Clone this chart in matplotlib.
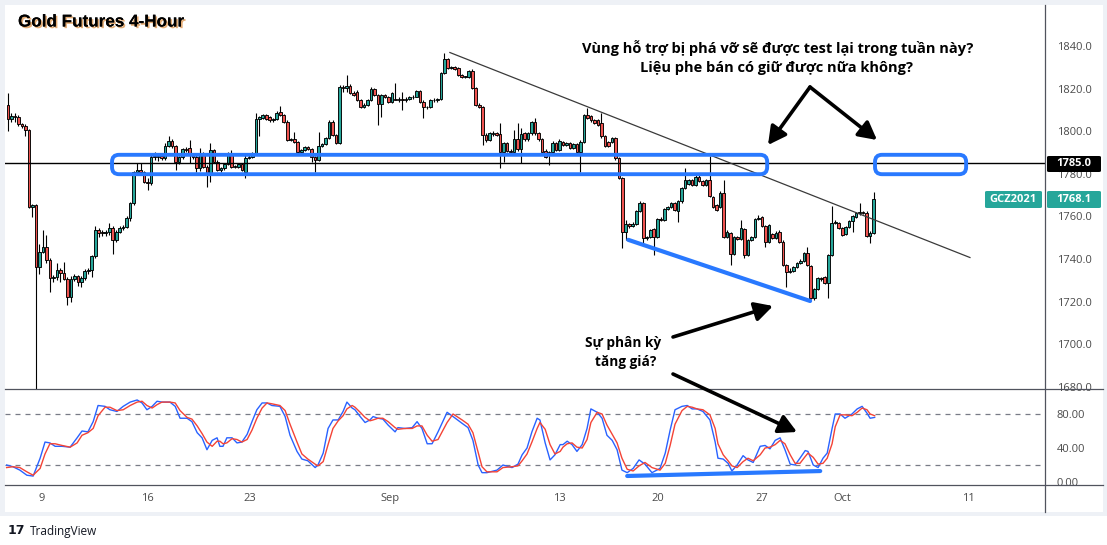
import numpy as np
import matplotlib
matplotlib.use('Agg')
import matplotlib.pyplot as plt
from matplotlib.patches import FancyBboxPatch, Rectangle, FancyArrowPatch
from matplotlib.lines import Line2D
import matplotlib.patheffects as pe

# ── Data: 4-hour candles (Gold futures, Aug 6 -> Oct 4) ─────────────
opens = [
    1812.3, 1805.6, 1807.2, 1806.5, 1803.2, 1802.5, 1800.6, 1764.6, 1765.2, 1736.4,
    1743.5, 1745.8, 1739.6, 1731.0, 1731.6, 1734.9, 1733.6, 1730.5, 1722.4, 1730.5,
    1731.8, 1729.4, 1731.0, 1734.6, 1735.0, 1741.2, 1753.7, 1752.4, 1752.1, 1752.9,
    1754.4, 1749.0, 1752.9, 1754.5, 1755.2, 1759.1, 1766.2, 1781.0, 1781.8, 1780.8,
    1776.3, 1775.5, 1788.1, 1787.8, 1788.5, 1787.2, 1793.1, 1795.4, 1792.8, 1785.7,
    1787.8, 1791.5, 1792.0, 1788.9, 1788.1, 1782.6, 1789.6, 1783.4, 1780.3, 1791.2,
    1785.7, 1781.8, 1782.5, 1784.6, 1789.6, 1783.1, 1783.4, 1784.6, 1780.6, 1787.3,
    1788.1, 1789.6, 1805.6, 1806.2, 1807.5, 1806.8, 1805.0, 1805.6, 1809.0, 1807.5,
    1804.5, 1795.9, 1796.5, 1795.1, 1790.4, 1791.2, 1792.4, 1791.5, 1787.8, 1786.5,
    1793.1, 1794.0, 1796.7, 1804.5, 1798.2, 1794.3, 1820.6, 1820.1, 1821.2, 1818.1,
    1818.6, 1814.7, 1811.5, 1812.3, 1814.7, 1819.7, 1817.0, 1812.8, 1817.0, 1815.9,
    1813.9, 1815.3, 1814.7, 1815.0, 1814.4, 1815.0, 1815.9, 1816.2, 1819.0, 1813.9,
    1811.5, 1811.2, 1814.7, 1814.4, 1815.0, 1827.2, 1833.8, 1829.5, 1830.0, 1829.5,
    1826.4, 1825.3, 1825.5, 1828.4, 1820.1, 1812.3, 1811.5, 1798.2, 1795.9, 1798.5,
    1799.3, 1798.5, 1790.4, 1794.3, 1790.9, 1790.4, 1796.2, 1791.5, 1799.0, 1796.2,
    1799.0, 1804.2, 1799.0, 1796.2, 1790.9, 1789.8, 1790.4, 1794.6, 1791.2, 1795.1,
    1793.5, 1794.6, 1792.0, 1794.0, 1790.4, 1795.1, 1807.6, 1807.1, 1805.0, 1805.0,
    1803.7, 1797.5, 1795.1, 1795.1, 1796.7, 1787.3, 1777.9, 1752.9, 1756.5, 1755.5,
    1756.5, 1762.7, 1766.2, 1749.7, 1750.5, 1753.9, 1750.5, 1758.7, 1758.3, 1763.4,
    1764.3, 1766.2, 1762.7, 1767.0, 1773.2, 1775.0, 1777.1, 1774.8, 1778.7, 1776.8,
    1774.8, 1777.1, 1769.3, 1765.4, 1764.6, 1771.2, 1750.5, 1752.4, 1742.4, 1750.2,
    1749.5, 1754.0, 1741.9, 1749.0, 1750.2, 1758.7, 1759.6, 1755.5, 1748.2, 1751.8,
    1749.7, 1752.9, 1748.2, 1737.2, 1734.1, 1734.6, 1736.4, 1738.0, 1739.3, 1743.0,
    1736.7, 1721.6, 1725.8, 1731.0, 1731.4, 1728.6, 1741.9, 1756.8, 1757.1, 1754.4,
    1751.8, 1755.2, 1758.0, 1759.6, 1761.5, 1762.0, 1761.8, 1750.8, 1752.4,
]
highs = [
    1818.0, 1808.4, 1808.4, 1807.6, 1804.0, 1803.2, 1801.2, 1765.8, 1766.0, 1747.0,
    1753.7, 1751.3, 1740.5, 1732.5, 1738.3, 1736.0, 1738.8, 1731.5, 1732.0, 1733.0,
    1732.5, 1731.8, 1735.5, 1735.8, 1742.0, 1755.5, 1754.5, 1753.5, 1753.5, 1757.0,
    1755.5, 1753.5, 1755.5, 1756.0, 1760.0, 1766.8, 1781.5, 1785.0, 1785.0, 1781.5,
    1778.0, 1789.0, 1790.4, 1789.5, 1789.5, 1794.5, 1797.5, 1796.5, 1793.5, 1788.5,
    1792.0, 1792.5, 1795.9, 1789.5, 1788.8, 1792.0, 1790.2, 1784.0, 1794.3, 1791.8,
    1786.3, 1783.2, 1785.2, 1790.2, 1791.2, 1784.0, 1785.2, 1785.2, 1788.9, 1788.9,
    1790.2, 1808.7, 1807.0, 1808.1, 1808.0, 1807.3, 1806.0, 1809.5, 1811.8, 1808.0,
    1805.0, 1797.0, 1799.8, 1795.6, 1791.8, 1793.0, 1793.0, 1792.0, 1788.5, 1799.8,
    1794.6, 1797.2, 1805.2, 1805.0, 1798.7, 1821.7, 1821.7, 1826.4, 1822.0, 1819.0,
    1819.2, 1815.3, 1813.2, 1815.3, 1820.5, 1820.3, 1817.5, 1817.6, 1817.6, 1816.5,
    1818.5, 1822.8, 1816.0, 1818.6, 1815.8, 1816.4, 1816.8, 1819.5, 1819.5, 1814.4,
    1812.0, 1815.3, 1815.4, 1815.6, 1827.8, 1836.6, 1834.3, 1830.6, 1830.5, 1830.0,
    1827.0, 1826.0, 1828.9, 1829.0, 1820.6, 1813.0, 1812.0, 1799.0, 1799.8, 1800.0,
    1799.8, 1803.7, 1794.8, 1794.8, 1791.5, 1800.6, 1803.7, 1801.4, 1799.5, 1799.5,
    1804.8, 1806.1, 1799.5, 1796.7, 1791.5, 1790.9, 1795.2, 1795.1, 1796.2, 1795.6,
    1795.1, 1795.1, 1794.6, 1794.5, 1796.0, 1808.2, 1810.7, 1807.6, 1805.5, 1805.6,
    1808.4, 1798.0, 1795.6, 1797.2, 1797.2, 1787.8, 1778.4, 1758.3, 1757.0, 1757.2,
    1763.2, 1767.4, 1766.7, 1751.0, 1754.2, 1754.4, 1759.2, 1759.5, 1763.8, 1764.8,
    1766.8, 1766.7, 1767.5, 1773.7, 1782.6, 1777.6, 1777.6, 1779.2, 1779.2, 1777.3,
    1777.6, 1788.4, 1769.8, 1765.9, 1771.7, 1777.1, 1753.4, 1752.9, 1750.7, 1750.7,
    1758.3, 1754.4, 1749.5, 1750.7, 1759.2, 1760.7, 1760.1, 1756.0, 1756.5, 1752.3,
    1753.0, 1753.4, 1748.7, 1737.7, 1736.0, 1736.9, 1738.5, 1739.8, 1743.5, 1745.8,
    1737.2, 1726.3, 1731.5, 1731.6, 1731.9, 1742.4, 1764.9, 1758.1, 1757.6, 1754.9,
    1755.7, 1758.5, 1760.7, 1762.0, 1766.5, 1762.5, 1762.3, 1753.0, 1771.6,
]
lows = [
    1800.0, 1804.5, 1804.5, 1802.5, 1801.5, 1797.5, 1763.8, 1759.9, 1676.0, 1733.0,
    1742.7, 1738.0, 1724.7, 1729.4, 1730.2, 1729.0, 1730.0, 1718.5, 1720.0, 1729.5,
    1727.5, 1727.0, 1730.2, 1733.0, 1731.5, 1740.5, 1750.5, 1751.0, 1750.8, 1751.5,
    1742.4, 1748.0, 1752.0, 1753.5, 1754.5, 1758.0, 1765.5, 1779.5, 1779.5, 1775.5,
    1772.4, 1774.5, 1786.5, 1786.0, 1786.5, 1786.5, 1792.5, 1792.0, 1781.8, 1784.5,
    1787.0, 1790.0, 1784.9, 1787.0, 1781.0, 1781.5, 1782.8, 1774.0, 1776.3, 1785.0,
    1781.2, 1781.0, 1781.8, 1784.0, 1782.5, 1782.5, 1782.8, 1781.2, 1777.9, 1786.8,
    1787.5, 1789.0, 1797.5, 1805.6, 1805.4, 1804.5, 1804.5, 1805.0, 1807.0, 1804.0,
    1795.4, 1795.4, 1794.6, 1789.0, 1789.8, 1790.6, 1791.0, 1785.7, 1781.0, 1786.0,
    1792.5, 1793.5, 1796.2, 1797.7, 1793.8, 1793.8, 1818.6, 1818.6, 1817.5, 1816.3,
    1814.2, 1810.8, 1810.8, 1811.8, 1814.0, 1816.5, 1802.9, 1806.8, 1815.5, 1813.3,
    1813.3, 1814.4, 1813.8, 1810.0, 1813.8, 1814.5, 1815.2, 1815.8, 1813.3, 1806.0,
    1810.6, 1810.8, 1813.6, 1813.8, 1814.4, 1826.6, 1829.0, 1829.0, 1828.5, 1826.0,
    1824.8, 1824.8, 1825.0, 1819.6, 1811.8, 1810.8, 1793.6, 1795.0, 1795.4, 1797.8,
    1797.5, 1782.6, 1785.7, 1790.0, 1789.8, 1789.8, 1790.9, 1785.0, 1795.6, 1795.6,
    1798.4, 1798.4, 1795.6, 1789.8, 1787.3, 1784.2, 1789.8, 1790.6, 1790.6, 1792.9,
    1792.9, 1791.5, 1791.5, 1789.8, 1781.0, 1794.6, 1805.5, 1804.5, 1803.2, 1802.4,
    1797.0, 1792.6, 1792.6, 1794.6, 1786.5, 1777.4, 1745.0, 1749.0, 1754.6, 1754.8,
    1756.0, 1762.2, 1747.4, 1749.0, 1749.8, 1742.0, 1750.0, 1757.8, 1757.8, 1762.8,
    1763.8, 1762.6, 1757.6, 1766.5, 1772.7, 1774.5, 1774.3, 1774.3, 1776.3, 1774.3,
    1774.3, 1769.1, 1764.1, 1762.6, 1764.1, 1750.0, 1750.0, 1737.2, 1741.9, 1749.0,
    1749.0, 1740.4, 1741.4, 1748.5, 1749.7, 1758.2, 1755.0, 1745.8, 1747.7, 1749.2,
    1749.2, 1747.7, 1736.7, 1727.1, 1733.6, 1734.1, 1735.9, 1737.5, 1738.8, 1736.7,
    1721.1, 1720.8, 1725.3, 1729.8, 1728.1, 1721.6, 1741.4, 1756.3, 1753.9, 1750.8,
    1751.3, 1754.7, 1752.5, 1759.1, 1760.8, 1761.0, 1750.3, 1747.4, 1751.9,
]
closes = [
    1805.6, 1807.2, 1806.5, 1803.2, 1802.5, 1800.6, 1764.6, 1765.2, 1736.4, 1743.5,
    1745.8, 1739.6, 1731.0, 1731.6, 1734.9, 1733.6, 1730.5, 1722.4, 1730.5, 1731.8,
    1729.4, 1731.0, 1734.6, 1735.0, 1741.2, 1753.7, 1752.4, 1752.1, 1752.9, 1754.4,
    1749.0, 1752.9, 1754.5, 1755.2, 1759.1, 1766.2, 1781.0, 1781.8, 1780.8, 1776.3,
    1775.5, 1788.1, 1787.8, 1788.5, 1787.2, 1793.1, 1795.4, 1792.8, 1785.7, 1787.8,
    1791.5, 1791.0, 1788.9, 1787.8, 1782.6, 1788.9, 1783.4, 1780.3, 1791.2, 1785.7,
    1781.8, 1782.5, 1784.6, 1789.6, 1783.1, 1783.4, 1784.6, 1781.8, 1787.3, 1788.1,
    1789.6, 1805.6, 1806.5, 1807.5, 1805.9, 1805.0, 1805.6, 1808.7, 1807.5, 1804.5,
    1795.9, 1796.5, 1795.1, 1790.4, 1791.2, 1792.4, 1791.5, 1787.8, 1786.5, 1793.1,
    1794.0, 1796.7, 1804.5, 1798.2, 1794.3, 1820.6, 1820.1, 1821.2, 1818.1, 1817.0,
    1814.7, 1811.5, 1812.3, 1814.7, 1819.7, 1817.0, 1812.8, 1817.0, 1815.9, 1813.9,
    1817.8, 1814.7, 1815.0, 1814.4, 1815.0, 1815.9, 1816.2, 1819.0, 1813.9, 1811.5,
    1811.2, 1814.7, 1814.4, 1815.0, 1827.2, 1833.8, 1829.5, 1830.0, 1829.1, 1826.4,
    1825.3, 1825.5, 1828.4, 1820.1, 1812.3, 1811.5, 1798.2, 1795.9, 1799.3, 1799.3,
    1798.2, 1790.4, 1794.3, 1790.9, 1790.4, 1796.2, 1791.5, 1798.7, 1796.2, 1799.0,
    1804.2, 1799.0, 1796.2, 1790.4, 1788.1, 1790.4, 1794.6, 1791.2, 1795.6, 1793.5,
    1794.6, 1792.0, 1794.0, 1790.4, 1795.1, 1807.6, 1806.1, 1805.0, 1803.7, 1802.9,
    1797.5, 1793.1, 1793.1, 1796.7, 1787.3, 1777.9, 1752.9, 1756.5, 1755.5, 1756.5,
    1762.7, 1766.2, 1749.7, 1750.5, 1753.7, 1750.5, 1758.7, 1758.3, 1763.4, 1764.3,
    1766.2, 1763.1, 1767.0, 1773.2, 1777.1, 1777.1, 1774.8, 1778.7, 1776.8, 1774.8,
    1777.1, 1769.6, 1764.6, 1763.1, 1771.2, 1750.5, 1752.9, 1742.4, 1750.2, 1749.5,
    1754.4, 1741.9, 1749.0, 1750.2, 1758.7, 1759.1, 1755.5, 1748.2, 1756.0, 1749.7,
    1752.4, 1748.2, 1737.2, 1734.1, 1734.6, 1736.4, 1738.0, 1739.3, 1743.0, 1737.2,
    1721.6, 1725.8, 1731.0, 1730.6, 1728.6, 1741.9, 1756.8, 1757.6, 1754.4, 1751.3,
    1755.2, 1758.0, 1760.2, 1761.5, 1762.0, 1761.8, 1750.8, 1752.4, 1768.1,
]

# Stochastic (%K blue, %D red), sampled along the candle index
stoch_idx = [
    -0.4, 1.4, 3.4, 5.4, 7.2, 9.2, 10.6, 12.0, 13.5, 15.5, 17.8, 19.8, 21.2, 22.9,
    24.4, 25.8, 27.8, 29.2, 31.2, 33.0, 35.0, 37.0, 38.4, 39.8, 41.3, 42.7, 44.1,
    46.4, 47.9, 49.3, 51.3, 52.7, 54.2, 55.6, 57.0, 58.5, 59.9, 60.7, 61.6, 62.7,
    64.2, 65.6, 67.0, 68.5, 69.9, 71.3, 72.8, 74.2, 75.6, 77.9, 79.4, 80.8, 82.8,
    84.2, 85.9, 88.0, 88.8, 90.3, 91.7, 93.1, 94.6, 96.0, 97.1, 98.6, 99.4, 100.9,
    102.3, 103.7, 104.6, 106.0, 107.4, 108.9, 110.9, 111.7, 113.8, 115.8, 117.2,
    118.6, 120.1, 121.5, 123.2, 125.8, 127.5, 130.1, 131.8, 133.2, 134.7, 135.8,
    137.2, 140.1, 141.8, 144.4, 146.1, 147.3, 148.7, 150.1, 151.6, 152.4, 153.9,
    155.3, 156.7, 158.2, 159.0, 160.2, 161.6, 163.0, 164.5, 165.9, 167.0, 168.8,
    170.2, 171.6, 173.1, 174.5, 175.9, 177.4, 179.1, 180.8, 182.5, 184.5, 186.8,
    188.3, 189.7, 191.1, 193.1, 194.6, 196.0, 197.4, 199.1, 201.1, 202.6, 203.4,
    204.9, 206.3, 207.4, 208.9, 210.6, 212.0, 213.5, 215.5, 216.9, 218.3, 219.8,
    221.2, 222.6, 224.1, 225.5, 226.9, 228.4, 229.2, 230.7, 232.1, 233.5, 234.7,
    236.1, 237.0, 238.4, 239.8, 241.8, 243.3, 244.7, 246.1, 247.0, 248.3,
]
stoch_k = [
    20, 18, 14, 8, 7, 28, 47, 46, 42, 42, 41, 52, 60, 59,
    71, 90, 89, 85, 83, 89, 94, 96.5, 93, 85, 89, 95, 94,
    94, 89, 75, 75, 71, 58, 52, 38, 49, 52, 42, 42, 52,
    52, 46, 47, 56, 71, 85, 93, 93, 90, 89, 77, 55, 36,
    27, 25, 17, 20, 34, 63, 73, 73, 83, 94, 87, 85, 77,
    70, 73, 77, 75, 74, 67, 59, 64, 63, 64, 71,
    63, 45, 45, 59, 82, 77, 69, 64, 49, 20, 11,
    11, 14, 20, 17, 21, 32, 40, 59, 75, 73, 46,
    26, 32, 44, 44, 48, 44, 36, 44, 63, 86, 82,
    75, 55, 49, 38, 14, 11, 16, 26, 21, 11, 16,
    34, 61, 85, 89, 90, 86, 86, 83, 73, 47, 28,
    27, 22, 13, 20, 31, 26, 23, 42, 43, 39, 49,
    52, 38, 21, 20, 28, 37, 36, 20, 17, 28, 34,
    63, 80, 80, 75, 80, 86, 89, 81, 75, 76,
]
stoch_d = [
    17, 18, 17, 12, 8, 16, 33, 45, 45, 43, 41, 46, 55, 58,
    63, 78, 88, 88, 84, 85, 90, 94, 95, 90, 87, 91, 94,
    94, 93, 84, 76, 74, 66, 57, 47, 42, 48, 48, 45, 46,
    51, 50, 47, 50, 61, 75, 87, 93, 92, 90, 84, 68, 47,
    33, 27, 21, 19, 24, 44, 63, 72, 78, 86, 90, 88, 82,
    76, 72, 73, 75, 75, 71, 64, 62, 63, 63, 66,
    66, 55, 48, 50, 70, 80, 73, 68, 58, 35, 18,
    12, 12, 17, 18, 19, 25, 33, 47, 63, 70, 62,
    44, 33, 36, 41, 45, 46, 41, 40, 50, 70, 82,
    80, 67, 56, 46, 28, 15, 13, 19, 23, 17, 14,
    22, 43, 68, 84, 89, 88, 86, 85, 79, 63, 45,
    32, 25, 19, 17, 24, 28, 25, 32, 40, 41, 44,
    49, 45, 32, 22, 22, 30, 34, 29, 21, 22, 28,
    45, 65, 79, 79, 78, 82, 87, 85, 80, 78,
]

date_labels = ['9', '16', '23', 'Sep', '13', '20', '27', 'Oct', '11']
date_pos = [9.7, 39.8, 69.3, 109.5, 157.9, 186.2, 216.0, 238.9, 275.1]

price_ticks = [1680, 1700, 1720, 1740, 1760, 1780, 1800, 1820, 1840]
stoch_ticks = [0, 40, 80]
support_level = 1785.0
last_price = 1768.1
symbol = 'GCZ2021'

# drawings (candle index, price)
trend_x, trend_y = [126.6, 275.6], [1836.9, 1740.7]
zone1_x, zone2_x, zone_y = (29.8, 217.5), (248.4, 274.5), (1779.8, 1788.9)
div_x, div_y = [177.7, 229.8], [1749.0, 1720.3]
stoch_div_x, stoch_div_y = [177.4, 232.7], [7.1, 12.9]

# ── Style ─────────────────────────────────────────────────────────
W, H = 1107, 545
UP, DOWN = '#26a69a', '#ef5350'
BLUE = '#2979ff'
AXC = '#4a4a4a'
FONT = 'Open Sans'

def fx(x): return x / W
def fy(y): return 1 - y / H

fig = plt.figure(figsize=(W / 100, H / 100), dpi=100)
fig.patch.set_facecolor('white')
fig.add_artist(Rectangle((0, fy(516)), 1, 516 / H, transform=fig.transFigure,
                         facecolor='#eef1f6', edgecolor='none', zorder=-3))
fig.add_artist(Rectangle((fx(5), fy(512)), fx(1098), 507 / H, transform=fig.transFigure,
                         facecolor='white', edgecolor='none', zorder=-2))

ax = fig.add_axes([fx(5), fy(389), fx(1040), 384 / H])
ax2 = fig.add_axes([fx(5), fy(485), fx(1040), 96 / H], sharex=ax)
for a in (ax, ax2):
    a.set_facecolor('white')
    for sp in a.spines.values(): sp.set_visible(False)

# candles
o, h, l, c = map(np.array, (opens, highs, lows, closes))
idx = np.arange(len(c))
cols = np.where(c >= o, UP, DOWN)
ax.vlines(idx, l, h, color='black', lw=0.8, zorder=2)
ax.bar(idx, np.maximum(np.abs(c - o), 0.35), bottom=np.minimum(o, c), width=0.75,
       color=cols, edgecolor='black', linewidth=0.65, zorder=3)

ax.set_xlim(-0.86, 297.1)
ax.set_ylim(1679.0, 1859.2)
ax.yaxis.tick_right()
ax.set_yticks(price_ticks)
ax.set_yticklabels([f'{v:.1f}' for v in price_ticks], fontsize=8, color=AXC, family=FONT)
ax.tick_params(axis='y', length=0, pad=8.5)
ax.tick_params(axis='x', bottom=False, labelbottom=False)

ax.axhline(support_level, color='black', lw=1.0, zorder=4)
ax.plot(trend_x, trend_y, color='#3a3a3a', lw=0.9, zorder=4)
ax.plot(div_x, div_y, color=BLUE, lw=3.0, solid_capstyle='round', zorder=5)

asp = (1 / 2.131) / (1 / 3.49)
for zx in (zone1_x, zone2_x):
    box = FancyBboxPatch((zx[0], zone_y[0]), zx[1] - zx[0], zone_y[1] - zone_y[0],
                         boxstyle='round,pad=0,rounding_size=2.0', mutation_aspect=asp,
                         facecolor='none', edgecolor=BLUE, lw=2.8, zorder=5, clip_on=False)
    ax.add_patch(box)

# stochastic
ax2.plot(stoch_idx, stoch_k, color='#2962ff', lw=1.0, zorder=3)
ax2.plot(stoch_idx, stoch_d, color='#f44336', lw=1.0, zorder=3)
for lvl in (80, 20):
    ax2.axhline(lvl, color='#787b86', lw=0.9, ls=(0, (4, 4)), zorder=1)
ax2.plot(stoch_div_x, stoch_div_y, color=BLUE, lw=3.0, solid_capstyle='round', zorder=5)
ax2.set_ylim(-3.5, 109.4)
ax2.yaxis.tick_right()
ax2.set_yticks(stoch_ticks)
ax2.set_yticklabels([f'{v:.2f}' for v in stoch_ticks], fontsize=8, color=AXC, family=FONT)
ax2.tick_params(axis='y', length=0, pad=8.5)
ax2.set_xticks(date_pos)
ax2.set_xticklabels(date_labels, fontsize=8, color=AXC, family=FONT)
ax2.tick_params(axis='x', length=0, pad=6)

# frame lines
def fline(x0, y0, x1, y1, color='#50535e', lw=0.9):
    fig.add_artist(Line2D([fx(x0), fx(x1)], [fy(y0), fy(y1)], transform=fig.transFigure,
                          color=color, lw=lw, zorder=6))
fline(1045, 5, 1045, 512)
fline(5, 389, 1103, 389)
fline(5, 485, 1103, 485)

# price labels on the scale
def tag(x0, x1, y0, y1, text, fc):
    fig.add_artist(FancyBboxPatch((fx(x0), fy(y1)), fx(x1 - x0), (y1 - y0) / H,
                                  boxstyle='round,pad=0,rounding_size=0.002',
                                  transform=fig.transFigure, facecolor=fc,
                                  edgecolor='none', zorder=8))
    fig.text(fx((x0 + x1) / 2), fy((y0 + y1) / 2), text, color='white', fontsize=8,
             fontweight='bold', family=FONT, ha='center', va='center', zorder=9)
tag(1047, 1101, 156, 172, f'{support_level:.1f}', 'black')
tag(1047, 1101, 191, 208, f'{last_price:.1f}', UP)
tag(985, 1042, 191, 208, symbol, UP)

# title
fig.text(fx(18), fy(22), 'Gold Futures 4-Hour', fontsize=12.3, fontweight='bold',
         family='Liberation Sans', color='black', ha='left', va='center', zorder=10,
         path_effects=[pe.withSimplePatchShadow(offset=(1.2, -1.2), shadow_rgbFace='#d9893a', alpha=0.7),
                       pe.Normal()])

# annotations
kw = dict(fontweight='bold', family=FONT, color='black', ha='center', va='center', zorder=10)
fig.text(fx(778), fy(48), 'Vùng hỗ trợ bị phá vỡ sẽ được test lại trong tuần này?', fontsize=10.5, **kw)
fig.text(fx(777), fy(68), 'Liệu phe bán có giữ được nữa không?', fontsize=10.5, **kw)
fig.text(fx(623), fy(343), 'Sự phân kỳ', fontsize=9.8, **kw)
fig.text(fx(626), fy(362), 'tăng giá?', fontsize=9.8, **kw)

def arrow(x0, y0, x1, y1):
    fig.add_artist(FancyArrowPatch((fx(x0), fy(y0)), (fx(x1), fy(y1)),
                                   transform=fig.transFigure,
                                   arrowstyle='-|>,head_length=0.6,head_width=0.32',
                                   mutation_scale=18, lw=2.6, color='black', zorder=10,
                                   shrinkA=0, shrinkB=0))
arrow(810, 87, 768, 145)
arrow(810, 87, 877, 140)
arrow(673, 337, 773, 306)
arrow(673, 374, 797, 432)

# TradingView logo
fig.text(fx(8), fy(531), '17', fontsize=9, fontweight='bold', family='DejaVu Sans',
         color='#131722', ha='left', va='center')
fig.text(fx(30), fy(531), 'TradingView', fontsize=8.5, family=FONT,
         color='#131722', ha='left', va='center')

fig.savefig('out.png', dpi=100, facecolor=fig.get_facecolor())
